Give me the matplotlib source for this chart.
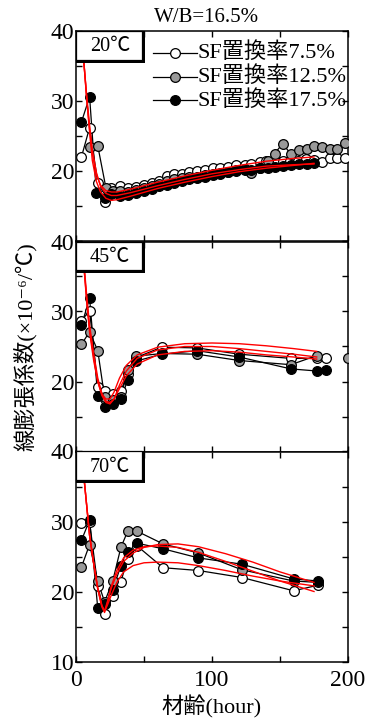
import numpy as np
import matplotlib
matplotlib.use("Agg")
import matplotlib.pyplot as plt
import matplotlib.patches as patches

plt.rcParams['font.family'] = ['Liberation Serif', 'Noto Sans CJK JP', 'DejaVu Sans']

title = "W/B=16.5%"
temps = ["20℃", "45℃", "70℃"]
series_names = ["SF置換率7.5%", "SF置換率12.5%", "SF置換率17.5%"]
series_faces = ["white", "#999999", "black"]

# ---- 20C ----
x20_a = [4, 10, 16, 21, 26, 32, 38, 44, 50, 56, 61, 67, 72, 78, 83, 89, 95, 101, 106, 112,
         118, 124, 129, 135, 140, 146, 152, 157, 163, 169, 175, 181, 187, 192, 198]
y20_a = [22.0, 26.2, 18.3, 15.6, 17.6, 17.8, 17.6, 17.7, 18.0, 18.3, 18.6, 19.3, 19.6, 19.6, 19.8,
         20.0, 20.1, 20.4, 20.5, 20.6, 20.8, 20.9, 21.0, 21.3, 21.5, 21.4, 21.4, 21.5, 21.5, 21.7,
         21.6, 21.3, 21.8, 21.8, 21.8]
x20_b = [10, 16, 22, 27, 32, 38, 44, 50, 56, 61, 67, 72, 78, 83, 89, 95, 101, 106, 112, 118,
         124, 129, 135, 141, 146, 152, 158, 164, 170, 175, 181, 187, 192, 198]
y20_b = [23.5, 23.6, 17.6, 17.2, 17.1, 17.0, 17.3, 17.6, 17.9, 18.2, 18.6, 18.9, 19.0, 19.2, 19.2,
         19.5, 19.6, 19.7, 19.9, 20.1, 20.3, 19.7, 20.5, 21.5, 22.5, 23.9, 22.4, 23.0, 23.2, 23.6,
         23.5, 23.2, 23.2, 24.0]
x20_c = [4, 10, 15, 21, 26, 32, 38, 44, 50, 56, 61, 67, 72, 78, 83, 89, 95, 101, 106, 112,
         118, 124, 129, 135, 141, 146, 152, 158, 164, 170, 175]
y20_c = [27.0, 30.6, 16.9, 16.2, 16.7, 16.5, 16.6, 16.9, 17.2, 17.5, 17.8, 18.0, 18.3, 18.6, 18.8,
         19.0, 19.2, 19.4, 19.6, 19.8, 20.0, 20.1, 20.2, 20.4, 20.5, 20.6, 20.7, 20.8, 21.0, 21.0,
         21.1]

fit20_x = [3.5, 6, 8, 10, 12, 15, 18, 22, 26, 30, 40, 60, 80, 100, 120, 140, 160, 175]
fit20_1 = [41, 35, 30, 26, 22.5, 19.5, 18.0, 17.2, 17.0, 17.0, 17.4, 18.4, 19.3, 20.1, 20.8, 21.4, 21.8, 22.0]
fit20_2 = [41, 35, 30, 25.5, 21.5, 18.5, 17.0, 16.1, 15.8, 15.9, 16.4, 17.5, 18.4, 19.2, 19.9, 20.4, 20.8, 21.1]
fit20_3 = [41, 35, 30.5, 26.5, 23, 19.8, 17.8, 16.8, 16.5, 16.5, 16.9, 17.9, 18.8, 19.6, 20.2, 20.7, 20.9, 21.0]

# ---- 45C ----
x45 = [4, 10, 16, 21, 27, 33, 38, 44, 63, 89, 120, 158, 177]
y45_a = [28.7, 30.1, 19.2, 18.7, 18.2, 18.7, 21.1, 23.4, 24.9, 24.8, 23.9, 23.3, 23.3]
y45_b = [25.3, 27.1, 24.4, 17.8, 17.3, 17.8, 21.6, 23.6, 24.0, 23.9, 23.0, 22.4, 23.7]
y45_c = [28.0, 31.9, 17.9, 16.4, 16.8, 17.5, 20.2, 22.9, 23.9, 24.4, 23.5, 21.8, 21.5]
x45_a_end, y45_a_end = [184], [23.3]
x45_b_end, y45_b_end = [200], [23.3]
x45_c_end, y45_c_end = [184], [21.7]

fit45_x = [3.5, 6, 8, 10, 13, 16, 19, 22, 25, 28, 32, 37, 45, 60, 80, 100, 120, 140, 160, 177]
fit45_1 = [41, 36, 31, 27, 23, 20, 18.2, 17.5, 17.5, 18.5, 20.5, 22.3, 23.8, 24.9, 25.4, 25.5, 25.4, 25.1, 24.7, 24.3]
fit45_2 = [41, 36, 31.5, 27.5, 23.5, 20, 18, 17, 16.8, 17.5, 19.5, 21.5, 23.3, 24.5, 25.0, 25.0, 24.7, 24.3, 23.9, 23.5]
fit45_3 = [41, 36.5, 32, 28, 24, 20.5, 18.3, 17.2, 17, 17.5, 19, 20.8, 22.5, 23.8, 24.3, 24.4, 24.2, 23.8, 23.5, 23.2]

# ---- 70C ----
x70 = [4, 10, 16, 21, 27, 33, 38, 45, 64, 90, 122, 160, 178]
y70_a = [29.8, 29.9, 20.8, 16.8, 19.4, 21.4, 24.7, 26.5, 23.4, 23.0, 22.0, 20.1, 20.9]
y70_b = [23.5, 26.7, 21.5, 18.5, 21.5, 26.3, 28.6, 28.6, 26.8, 25.5, 23.1, 21.5, 21.3]
y70_c = [27.3, 30.2, 17.6, 18.2, 20.2, 23.7, 25.6, 26.9, 26.1, 24.8, 23.9, 21.8, 21.5]

fit70_x = [3.5, 6, 8, 10, 13, 16, 19, 21, 23, 26, 30, 35, 42, 50, 60, 75, 90, 110, 130, 150, 175]
fit70_1 = [41, 36, 32, 28, 24, 20.5, 18, 17.2, 18.5, 20.5, 22.5, 24.3, 25.5, 26.3, 26.7, 26.8, 26.4, 25.4, 24.2, 22.8, 21.3]
fit70_2 = [41, 36, 32, 28, 24, 20.3, 17.8, 17.0, 18.3, 20.8, 23.0, 24.8, 25.9, 26.4, 26.5, 26.3, 25.6, 24.3, 22.9, 21.5, 20.0]
fit70_3 = [41, 36, 32, 28, 24, 20.5, 18, 17.2, 18.0, 19.5, 21.3, 22.8, 23.7, 24.1, 24.2, 24.1, 23.7, 23.0, 22.2, 21.5, 20.8]

panels = [
    ([(x20_a, y20_a), (x20_b, y20_b), (x20_c, y20_c)], fit20_x, [fit20_1, fit20_2, fit20_3], []),
    ([(x45, y45_a), (x45, y45_b), (x45, y45_c)], fit45_x, [fit45_1, fit45_2, fit45_3],
     [(x45_a_end, y45_a_end, 0), (x45_b_end, y45_b_end, 1), (x45_c_end, y45_c_end, 2)]),
    ([(x70, y70_a), (x70, y70_b), (x70, y70_c)], fit70_x, [fit70_1, fit70_2, fit70_3], []),
]

fig = plt.figure(figsize=(3.65, 7.18), dpi=100)
left, width = 76 / 365, 272 / 365
tops = [31, 241.5, 451.5]
h = 210 / 718

axes = []
for i, (series, fx, fits, extra) in enumerate(panels):
    ax = fig.add_axes([left, 1 - (tops[i] + 210) / 718, width, h])
    axes.append(ax)
    for k, (xs, ys) in enumerate(series):
        ax.plot(xs, ys, '-', color='black', lw=0.9, zorder=2)
    for k, (xs, ys) in enumerate(series):
        ax.plot(xs, ys, 'o', ms=7, mfc=series_faces[k], mec='black', mew=0.9, zorder=3 + k * 0.1)
    for xs, ys, k in extra:
        ax.plot(xs, ys, 'o', ms=7, mfc=series_faces[k], mec='black', mew=0.9, zorder=3)
    for fy in fits:
        ax.plot(fx, fy, '-', color='red', lw=1.0, zorder=5)

    ax.set_xlim(0, 200)
    ax.set_ylim(10, 40)
    ax.set_xticks([0, 50, 100, 150, 200])
    ax.set_yticks([10, 20, 30, 40])
    ax.set_yticks([15, 25, 35], minor=True)
    if i == 2:
        ax.set_xticklabels(['0', '', '100', '', '200'])
        ax.set_yticklabels(['10', '20', '30', '40'])
    else:
        ax.set_xticklabels([])
        ax.set_yticklabels(['', '20', '30', '40'])
    ax.tick_params(which='both', direction='in', top=True, right=True, length=4, width=1,
                   labelsize=17)
    ax.tick_params(axis='y', pad=1)
    ax.tick_params(axis='x', pad=6)
    for s in ax.spines.values():
        s.set_linewidth(1.1)

    # temperature label box with shadow
    ax.add_patch(patches.Rectangle((0, 0.848), 0.255, 0.152, transform=ax.transAxes,
                                   facecolor='black', edgecolor='none', zorder=6, clip_on=False))
    ax.add_patch(patches.Rectangle((0, 0.862), 0.244, 0.138, transform=ax.transAxes,
                                   facecolor='white', edgecolor='black', lw=0.9, zorder=6.1,
                                   clip_on=False))
    ax.text(0.125, 0.925, temps[i], transform=ax.transAxes, ha='center', va='center',
            fontsize=14.5, zorder=7)

# legend drawn by hand so row spacing matches the original
ax0 = axes[0]
leg_rows = [0.895, 0.781, 0.671]
for k, name in enumerate(series_names):
    yy = leg_rows[k]
    ax0.plot([0.283, 0.445], [yy, yy], '-', color='black', lw=0.9, transform=ax0.transAxes,
             clip_on=False, zorder=8)
    ax0.plot([0.364], [yy], 'o', ms=7, mfc=series_faces[k], mec='black', mew=0.9,
             transform=ax0.transAxes, clip_on=False, zorder=8.1)
    ax0.text(0.445, yy, name, transform=ax0.transAxes, ha='left', va='center',
             fontsize=16, zorder=8)

fig.text(0.567, 0.976, title, ha='center', va='center', fontsize=15)
fig.text(0.068, 0.517, "線膨張係数(×10⁻⁶/℃)", rotation=90, ha='center', va='center',
         fontsize=16)
fig.text(0.58, 0.016, "材齢(hour)", ha='center', va='center', fontsize=16)

fig.savefig("out.png", dpi=100)
